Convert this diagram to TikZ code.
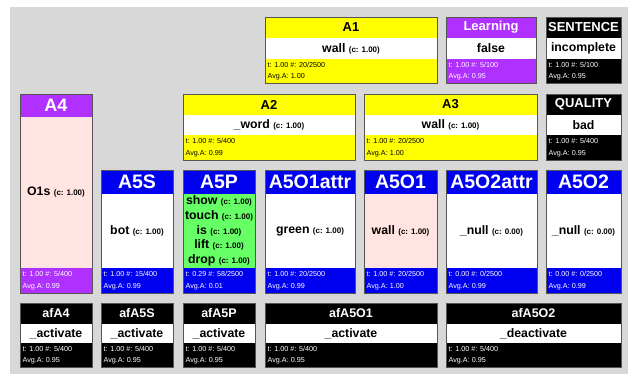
\documentclass[tikz,border=0pt]{standalone}
\usepackage{fontspec}
\setmainfont{Liberation Sans}
\definecolor{bgray}{RGB}{216,216,216}
\definecolor{yel}{RGB}{255,255,0}
\definecolor{pur}{RGB}{176,48,255}
\definecolor{blu}{RGB}{0,0,240}
\definecolor{grn}{RGB}{102,255,102}
\definecolor{pnk}{RGB}{255,228,225}
\definecolor{frm}{RGB}{85,85,85}
% row geometry: top, header bottom, body bottom, bottom
\def\rowAa{17}\def\rowAb{38}\def\rowAc{59}\def\rowAd{83}
\def\rowBa{94}\def\rowBb{115}\def\rowBc{135}\def\rowBd{160}
\def\rowCa{170}\def\rowCb{194}\def\rowCc{268}\def\rowCd{293}
\def\rowDa{303}\def\rowDb{324}\def\rowDc{343}\def\rowDd{367}
\def\rowXa{94}\def\rowXb{117}\def\rowXc{268}\def\rowXd{293}
\newcommand\szS{\fontsize{13}{15}\selectfont}
\newcommand\szL{\fontsize{19.5}{21}\selectfont}
\newcommand\szM{\fontsize{18}{20}\selectfont}
\newcommand\szD{\fontsize{12.5}{14}\selectfont}
\newcommand\wc[2]{#1 {\fontsize{8}{9}\selectfont (c: #2)}}
\newcommand\dbox[8]{%
  \edef\yyA{\csname row#4a\endcsname}\edef\yyB{\csname row#4b\endcsname}%
  \edef\yyC{\csname row#4c\endcsname}\edef\yyD{\csname row#4d\endcsname}%
  \fill[#5] (#2,\yyA) rectangle (#3,\yyB);
  \fill[#6] (#2,\yyB) rectangle (#3,\yyC);
  \fill[#5] (#2,\yyC) rectangle (#3,\yyD);
  \draw[frame] (#2,\yyA) rectangle (#3,\yyD);
  \node[ttl,text=#7] (#1-t) at ({(#2+#3)/2},{(\yyA+\yyB)/2}) {#8};
  \coordinate (#1-b) at ({(#2+#3)/2},{(\yyB+\yyC)/2});
  \coordinate (#1-f) at (#2,{(\yyC+\yyD)/2});
  \def\curtxt{#7}%
}
\newcommand\dfoot[3]{\node[ft,text=\curtxt] (#1-ft) at (#1-f) {#2\\Avg.A: #3};}
\tikzset{
  ttl/.style={font=\bfseries, inner sep=0},
  cnt/.style={align=center, inner sep=0, font=\bfseries\fontsize{12.3}{14.6}\selectfont},
  ft/.style={anchor=west, align=left, inner xsep=2.5pt, inner ysep=0, font=\fontsize{7.2}{11.6}\selectfont},
  frame/.style={draw=frm, line width=0.9pt}
}
\begin{document}
\begin{tikzpicture}[x=1pt,y=-1pt]
\useasboundingbox (0,0) rectangle (633,376);
\fill[white] (0,0) rectangle (633,376);
\fill[bgray] (10,7) rectangle (628,374);
% row 1
\dbox{A1}{265}{437}{A}{yel}{white}{black}{\szS A1}
\node[cnt] (A1-c) at (A1-b) {\wc{wall}{1.00}};
\dfoot{A1}{t: 1.00 \#: 20/2500}{1.00}
\dbox{LRN}{446}{536}{A}{pur}{white}{white}{\szS Learning}
\node[cnt] (LRN-c) at (LRN-b) {false};
\dfoot{LRN}{t: 1.00 \#: 5/100}{0.95}
\dbox{SEN}{546}{621}{A}{black}{white}{white}{\szS SENTENCE}
\fill[white] (547.5,38) rectangle (619.5,59);
\node[cnt] (SEN-c) at (SEN-b) {incomplete};
\dfoot{SEN}{t: 1.00 \#: 5/100}{0.95}
% row 2
\dbox{A4}{20}{92}{X}{pur}{pnk}{white}{\szM A4}
\node[cnt] (A4-c) at (A4-b) {\wc{O1s}{1.00}};
\dfoot{A4}{t: 1.00 \#: 5/400}{0.99}
\dbox{A2}{183}{355}{B}{yel}{white}{black}{\szS A2}
\node[cnt] (A2-c) at (A2-b) {\wc{\_word}{1.00}};
\dfoot{A2}{t: 1.00 \#: 5/400}{0.99}
\dbox{A3}{364}{537}{B}{yel}{white}{black}{\szS A3}
\node[cnt] (A3-c) at (A3-b) {\wc{wall}{1.00}};
\dfoot{A3}{t: 1.00 \#: 20/2500}{1.00}
\dbox{QUA}{546}{621}{B}{black}{white}{white}{\szS QUALITY}
\fill[white] (547.5,115) rectangle (619.5,135);
\node[cnt] (QUA-c) at (QUA-b) {bad};
\dfoot{QUA}{t: 1.00 \#: 5/400}{0.95}
% row 3
\dbox{A5S}{101}{173}{C}{blu}{white}{white}{\szL A5S}
\node[cnt] (A5S-c) at (A5S-b) {\wc{bot}{1.00}};
\dfoot{A5S}{t: 1.00 \#: 15/400}{0.99}
\dbox{A5P}{183}{255}{C}{blu}{grn}{white}{\szL A5P}
\node[cnt] (A5P-c) at (A5P-b) {\wc{show}{1.00}\\\wc{touch}{1.00}\\\wc{is}{1.00}\\\wc{lift}{1.00}\\\wc{drop}{1.00}};
\dfoot{A5P}{t: 0.29 \#: 58/2500}{0.01}
\dbox{A5O1attr}{265}{355}{C}{blu}{white}{white}{\szL A5O1attr}
\node[cnt] (A5O1attr-c) at (A5O1attr-b) {\wc{green}{1.00}};
\dfoot{A5O1attr}{t: 1.00 \#: 20/2500}{0.99}
\dbox{A5O1}{364}{437}{C}{blu}{pnk}{white}{\szL A5O1}
\node[cnt] (A5O1-c) at (A5O1-b) {\wc{wall}{1.00}};
\dfoot{A5O1}{t: 1.00 \#: 20/2500}{1.00}
\dbox{A5O2attr}{446}{537}{C}{blu}{white}{white}{\szL A5O2attr}
\node[cnt] (A5O2attr-c) at (A5O2attr-b) {\wc{\_null}{0.00}};
\dfoot{A5O2attr}{t: 0.00 \#: 0/2500}{0.99}
\dbox{A5O2}{546}{621}{C}{blu}{white}{white}{\szL A5O2}
\node[cnt] (A5O2-c) at (A5O2-b) {\wc{\_null}{0.00}};
\dfoot{A5O2}{t: 0.00 \#: 0/2500}{0.99}
% row 4
\dbox{afA4}{20}{92}{D}{black}{white}{white}{\szD afA4}
\fill[white] (21.5,324) rectangle (90.5,343);
\node[cnt] (afA4-c) at (afA4-b) {\_activate};
\dfoot{afA4}{t: 1.00 \#: 5/400}{0.95}
\dbox{afA5S}{101}{173}{D}{black}{white}{white}{\szD afA5S}
\fill[white] (102.5,324) rectangle (171.5,343);
\node[cnt] (afA5S-c) at (afA5S-b) {\_activate};
\dfoot{afA5S}{t: 1.00 \#: 5/400}{0.95}
\dbox{afA5P}{183}{255}{D}{black}{white}{white}{\szD afA5P}
\fill[white] (184.5,324) rectangle (253.5,343);
\node[cnt] (afA5P-c) at (afA5P-b) {\_activate};
\dfoot{afA5P}{t: 1.00 \#: 5/400}{0.95}
\dbox{afA5O1}{265}{437}{D}{black}{white}{white}{\szD afA5O1}
\fill[white] (266.5,324) rectangle (435.5,343);
\node[cnt] (afA5O1-c) at (afA5O1-b) {\_activate};
\dfoot{afA5O1}{t: 1.00 \#: 5/400}{0.95}
\dbox{afA5O2}{446}{621}{D}{black}{white}{white}{\szD afA5O2}
\fill[white] (447.5,324) rectangle (619.5,343);
\node[cnt] (afA5O2-c) at (afA5O2-b) {\_deactivate};
\dfoot{afA5O2}{t: 1.00 \#: 5/400}{0.95}
\end{tikzpicture}
\end{document}
